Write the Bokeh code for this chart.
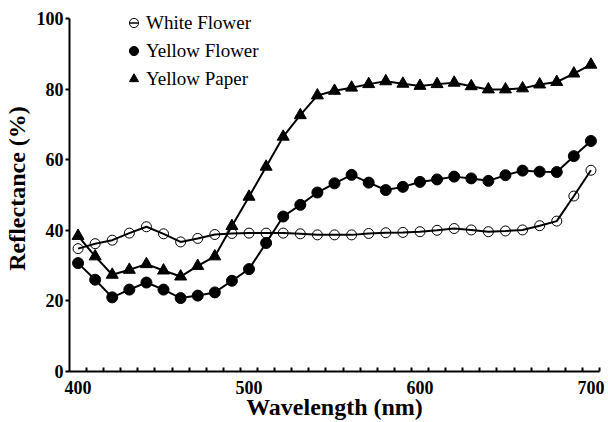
from bokeh.plotting import figure
from bokeh.models import FixedTicker, Legend, LegendItem, Range1d
from bokeh.embed import file_html
from bokeh.resources import INLINE

wavelength = [400, 410, 420, 430, 440, 450, 460, 470, 480, 490,
              500, 510, 520, 530, 540, 550, 560, 570, 580, 590,
              600, 610, 620, 630, 640, 650, 660, 670, 680, 690, 700]

white_flower = [34.8, 36.2, 37.2, 39.2, 41.0, 39.0, 36.7, 37.7, 38.8, 39.1,
                39.2, 39.2, 39.2, 39.0, 38.7, 38.7, 38.7, 39.1, 39.3, 39.4,
                39.6, 40.0, 40.5, 40.1, 39.6, 39.8, 40.1, 41.3, 42.6, 49.7, 57.0]

yellow_flower = [30.7, 26.0, 21.0, 23.2, 25.2, 23.2, 20.8, 21.5, 22.4, 25.7,
                 29.0, 36.4, 43.9, 47.2, 50.7, 53.3, 55.7, 53.5, 51.4, 52.3,
                 53.7, 54.4, 55.2, 54.7, 54.0, 55.6, 56.9, 56.6, 56.5, 61.0, 65.3]

yellow_paper = [38.4, 32.6, 27.4, 28.8, 30.4, 28.6, 26.9, 29.9, 32.6, 41.2,
                49.5, 58.0, 66.5, 72.6, 78.2, 79.5, 80.4, 81.4, 82.2, 81.5,
                80.9, 81.4, 81.8, 80.8, 79.9, 79.9, 80.2, 81.3, 82.0, 84.4, 86.9]

x_tick_labels = [400, 500, 600, 700]
y_tick_labels = [0, 20, 40, 60, 80, 100]
series_names = ["White Flower", "Yellow Flower", "Yellow Paper"]

FONT = "Liberation Serif"

# frame: top at 5 px, bottom at 372 px; 100 % sits at 18 px
p = figure(width=608, height=422, output_backend="svg", toolbar_location=None,
           x_range=Range1d(395, 705), y_range=Range1d(0, 103.67),
           min_border_left=68, min_border_right=9, min_border_top=5,
           min_border_bottom=50)
p.xgrid.visible = False
p.ygrid.visible = False
p.outline_line_color = None
p.background_fill_color = "white"
p.border_fill_color = "white"

# x axis: labels every 100 nm, small inward ticks between categories
minor = [395 + 10 * i for i in range(1, 32)]
p.xaxis.ticker = FixedTicker(ticks=x_tick_labels, minor_ticks=minor)
p.xaxis.major_tick_in = 0
p.xaxis.major_tick_out = 0
p.xaxis.minor_tick_in = 4
p.xaxis.minor_tick_out = 0
p.xaxis.minor_tick_line_width = 2
p.xaxis.minor_tick_line_color = "black"
p.xaxis.major_label_standoff = 9
p.xaxis.axis_label = "Wavelength (nm)"
p.xaxis.axis_label_standoff = -3

p.yaxis.ticker = FixedTicker(ticks=y_tick_labels)
p.yaxis.bounds = (0, 100)
p.yaxis.major_tick_in = 0
p.yaxis.major_tick_out = 4
p.yaxis.minor_tick_line_color = None
p.yaxis.major_label_standoff = 2
p.yaxis.axis_label = "Reflectance (%)"
p.yaxis.axis_label_standoff = 4

for ax in (p.xaxis, p.yaxis):
    ax.axis_line_width = 2
    ax.axis_line_color = "black"
    ax.major_tick_line_width = 2
    ax.major_tick_line_color = "black"
    ax.major_label_text_font = FONT
    ax.major_label_text_font_style = "bold"
    ax.major_label_text_font_size = "18px"
    ax.major_label_text_color = "black"
    ax.axis_label_text_font = FONT
    ax.axis_label_text_font_style = "bold"
    ax.axis_label_text_font_size = "24px"
    ax.axis_label_text_color = "black"

# series
l1 = p.line(wavelength, white_flower, line_color="black", line_width=2)
s1 = p.scatter(wavelength, white_flower, marker="circle", size=10,
               fill_color=None, line_color="black", line_width=1)
d1 = p.scatter(wavelength, white_flower, marker="dash", size=10,
               line_color="black", line_width=1.5, visible=False)

l2 = p.line(wavelength, yellow_flower, line_color="black", line_width=2)
s2 = p.scatter(wavelength, yellow_flower, marker="circle", size=11,
               fill_color="black", line_color="black")

l3 = p.line(wavelength, yellow_paper, line_color="black", line_width=2)
s3 = p.scatter(wavelength, yellow_paper, marker="triangle", size=12,
               fill_color="black", line_color="black")

legend = Legend(items=[
    LegendItem(label=series_names[0], renderers=[s1, d1]),
    LegendItem(label=series_names[1], renderers=[s2]),
    LegendItem(label=series_names[2], renderers=[s3]),
], location=(53, 281))
legend.glyph_width = 23
legend.glyph_height = 23
legend.label_height = 23
legend.spacing = 5
legend.padding = 0
legend.margin = 0
legend.label_standoff = 1
legend.label_text_font = FONT
legend.label_text_font_size = "19px"
legend.label_text_color = "black"
legend.border_line_color = None
legend.background_fill_alpha = 0
p.add_layout(legend)

open("out.html", "w").write(file_html(p, INLINE))
